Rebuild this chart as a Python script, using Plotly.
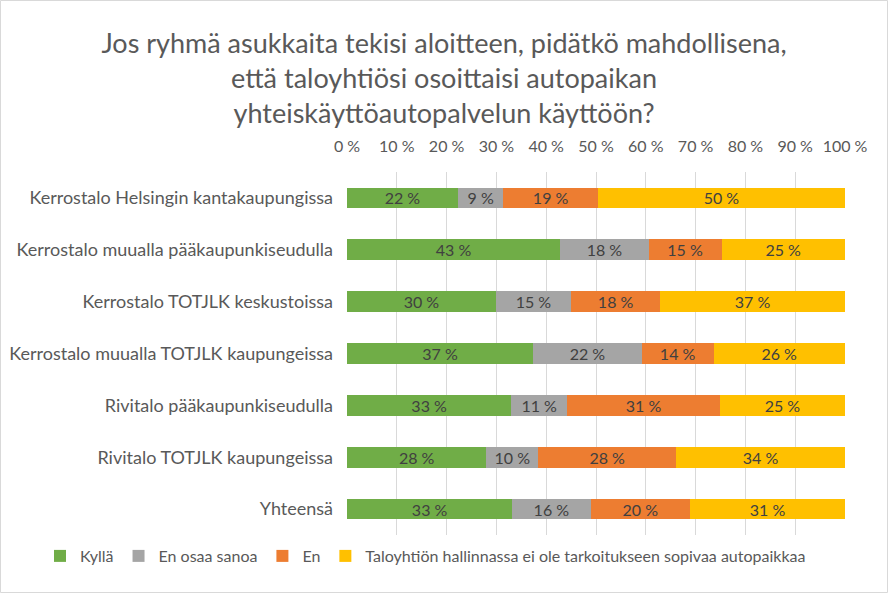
import plotly.graph_objects as go

categories = [
    "Kerrostalo Helsingin kantakaupungissa",
    "Kerrostalo muualla pääkaupunkiseudulla",
    "Kerrostalo TOTJLK keskustoissa",
    "Kerrostalo muualla TOTJLK kaupungeissa",
    "Rivitalo pääkaupunkiseudulla",
    "Rivitalo TOTJLK kaupungeissa",
    "Yhteensä",
]
series_names = ["Kyllä", "En osaa sanoa", "En",
                "Taloyhtiön hallinnassa ei ole tarkoitukseen sopivaa autopaikkaa"]
kylla = [22.3, 42.8, 29.9, 37.4, 33.0, 28.0, 33.2]
en_osaa = [9.1, 17.8, 15.1, 21.8, 11.2, 10.4, 15.7]
en = [19.0, 14.6, 17.9, 14.4, 30.7, 27.7, 20.0]
ei_paikkaa = [49.6, 24.8, 37.1, 26.4, 25.1, 33.9, 31.1]
tick_vals = [0, 10, 20, 30, 40, 50, 60, 70, 80, 90, 100]
tick_text = [f"{v} %" for v in tick_vals]
colors = ["#70AD47", "#A5A5A5", "#ED7D31", "#FFC000"]

FONT = "Lato, Open Sans, sans-serif"

fig = go.Figure()
for name, vals, col in zip(series_names, [kylla, en_osaa, en, ei_paikkaa], colors):
    fig.add_trace(go.Bar(
        y=categories, x=vals, name=name, orientation="h",
        marker=dict(color=col, line=dict(width=0)),
        text=[f"{round(v)} %" for v in vals],
        textposition="inside", insidetextanchor="middle",
        constraintext="none",
        textfont=dict(color="#404040", size=16, family=FONT),
        hoverinfo="skip",
    ))

W, H = 888, 593
L, R, T, B = 347, 43, 172, 58
pw, ph = W - L - R, H - T - B

def px(x):
    return (x - L) / pw

def py(y):
    return (H - B - y) / ph

fig.update_layout(
    width=W, height=H,
    barmode="stack", bargap=0.6,
    margin=dict(l=L, r=R, t=T, b=B, pad=0, autoexpand=False),
    paper_bgcolor="white", plot_bgcolor="white",
    font=dict(family=FONT, color="#595959"),
    title=dict(
        text="Jos ryhmä asukkaita tekisi aloitteen, pidätkö mahdollisena,<br>"
             "että taloyhtiösi osoittaisi autopaikan<br>"
             "yhteiskäyttöautopalvelun käyttöön?",
        x=0.5, xref="container", xanchor="center",
        y=1 - 53 / H, yanchor="top", yref="container",
        font=dict(size=27, color="#595959", family=FONT),
    ),
    xaxis=dict(
        range=[0, 100], side="top", tickvals=tick_vals, ticktext=tick_text,
        showgrid=True, gridcolor="#D9D9D9", gridwidth=1,
        zeroline=False, showline=False, ticks="",
        tickfont=dict(size=16, color="#595959"),
        ticklabelstandoff=16, fixedrange=True, automargin=False,
    ),
    yaxis=dict(
        categoryorder="array", categoryarray=categories[::-1],
        ticks="", showline=False, showgrid=False,
        tickfont=dict(size=18, color="#595959"),
        ticklabelstandoff=13, fixedrange=True, automargin=False,
    ),
    legend=dict(
        orientation="h", xref="paper", x=px(40), xanchor="left",
        yref="paper", y=py(556), yanchor="middle",
        font=dict(size=16, color="#595959"),
        traceorder="normal", itemwidth=30,
    ),
    showlegend=True,
    shapes=[dict(
        type="rect", xref="paper", yref="paper",
        x0=px(0.5), x1=px(W - 0.5), y0=py(H - 0.5), y1=py(0.5),
        line=dict(color="#D9D9D9", width=1), fillcolor="rgba(0,0,0,0)",
        layer="below",
    )],
)

fig.write_html("out.html", config={"displayModeBar": False},
               post_script="document.body.style.margin='0';document.body.style.overflow='hidden';")
